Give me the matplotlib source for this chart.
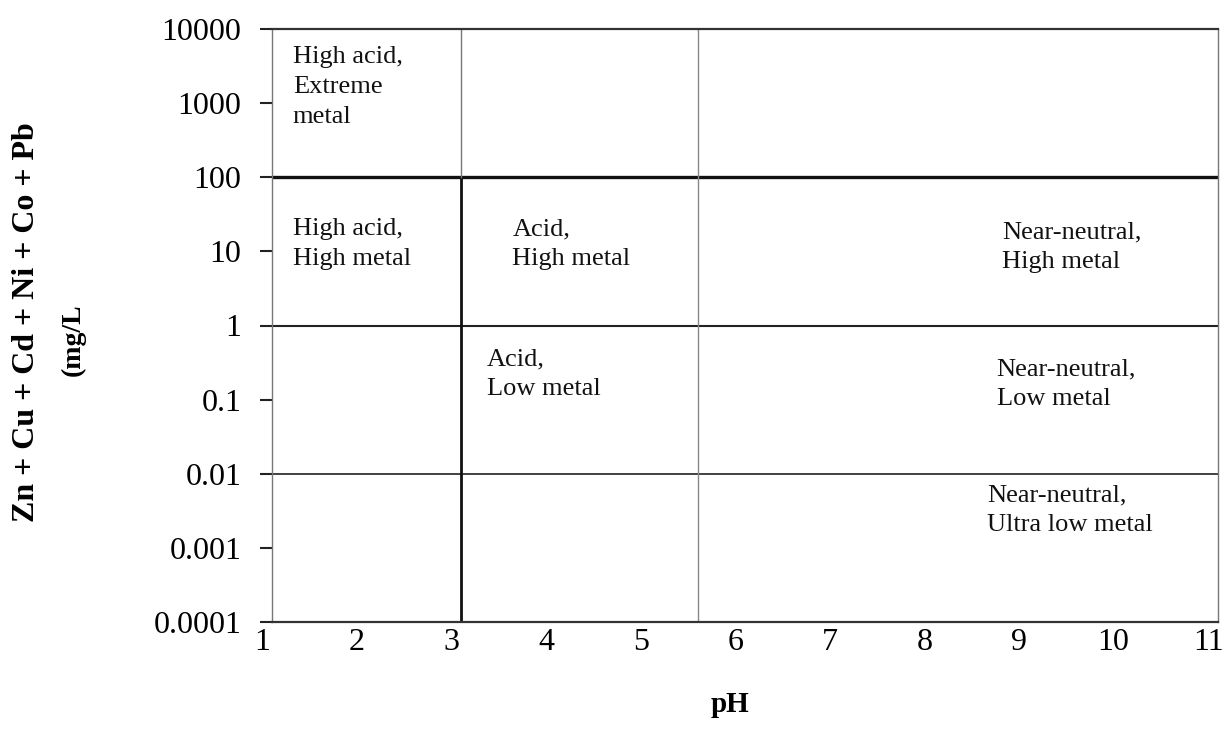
import matplotlib
matplotlib.use('Agg')
from matplotlib import pyplot as plt
from matplotlib import ticker, transforms

# axis ticks
ph_ticks = [1, 2, 3, 4, 5, 6, 7, 8, 9, 10, 11]
conc_ticks = [1e-4, 1e-3, 1e-2, 1e-1, 1, 10, 100, 1000, 10000]
conc_labels = ['0.0001', '0.001', '0.01', '0.1', '1', '10', '100', '1000', '10000']

# class boundaries
ph_acid = 3.0
ph_neutral = 5.5
metal_extreme = 100
metal_high = 1
metal_low = 0.01

# region names
regions = [
	'High acid,\nExtreme\nmetal',
	'High acid,\nHigh metal',
	'Acid,\nHigh metal',
	'Near-neutral,\nHigh metal',
	'Acid,\nLow metal',
	'Near-neutral,\nLow metal',
	'Near-neutral,\nUltra low metal',
]
# where the names sit (pH, concentration)
region_pos = [
	(1.22, 1650),
	(1.22, 12.5),
	(3.54, 12.5),
	(8.72, 11.4),
	(3.27, 0.22),
	(8.66, 0.16),
	(8.56, 0.0032),
]

plt.rcParams['font.family'] = ['Liberation Serif', 'DejaVu Serif']

fig = plt.figure(figsize=(12.3, 7.37), dpi=100)
ax = fig.add_axes([272 / 1230, 1 - 622 / 737, 946 / 1230, 593 / 737])

ax.set_yscale('log')
ax.set_xlim(ph_ticks[0], ph_ticks[-1])
ax.set_ylim(conc_ticks[0], conc_ticks[-1])

ax.yaxis.set_major_locator(ticker.FixedLocator(conc_ticks))
ax.yaxis.set_major_formatter(ticker.FixedFormatter(conc_labels))
ax.yaxis.set_minor_locator(ticker.NullLocator())
ax.set_xticks(ph_ticks)
ax.set_xticklabels([str(t) for t in ph_ticks])

ax.tick_params(axis='y', length=9, width=1.5, pad=13, labelsize=23, color='#222222')
ax.tick_params(axis='x', length=0, pad=4, labelsize=23)

# the scanned x labels sit a little left of their ticks
shift = transforms.ScaledTranslation(-7 / 72, 0, fig.dpi_scale_trans)
for lab in ax.get_xticklabels():
	lab.set_transform(lab.get_transform() + shift)

# frame
ax.spines['top'].set_color('#333333')
ax.spines['top'].set_linewidth(1.6)
ax.spines['bottom'].set_color('#333333')
ax.spines['bottom'].set_linewidth(1.6)
ax.spines['left'].set_color('#777777')
ax.spines['left'].set_linewidth(1.0)
ax.spines['right'].set_color('#777777')
ax.spines['right'].set_linewidth(1.0)

# horizontal boundaries
ax.axhline(metal_extreme, color='#111111', lw=2.4)
ax.axhline(metal_high, color='#222222', lw=1.5)
ax.axhline(metal_low, color='#333333', lw=1.3)

# vertical boundaries
ax.plot([ph_acid, ph_acid], [conc_ticks[0], metal_extreme], color='#111111', lw=2.0)
ax.plot([ph_acid, ph_acid], [metal_extreme, conc_ticks[-1]], color='#777777', lw=1.0)
ax.plot([ph_neutral, ph_neutral], [conc_ticks[0], conc_ticks[-1]], color='#888888', lw=1.0)

for name, (px, py) in zip(regions, region_pos):
	ax.text(px, py, name, fontsize=19, ha='left', va='center', linespacing=1.45, color='#111111')

fig.text(730 / 1230, 1 - 705 / 737, 'pH', fontsize=21, fontweight='bold', ha='center', va='center')
fig.text(27 / 1230, 1 - 322 / 737, 'Zn + Cu + Cd + Ni + Co + Pb', rotation=90,
		 fontsize=23, fontweight='bold', ha='center', va='center')
fig.text(73 / 1230, 1 - 340 / 737, '(mg/L', rotation=90,
		 fontsize=20, fontweight='bold', ha='center', va='center')

fig.savefig('out.png', dpi=100)
